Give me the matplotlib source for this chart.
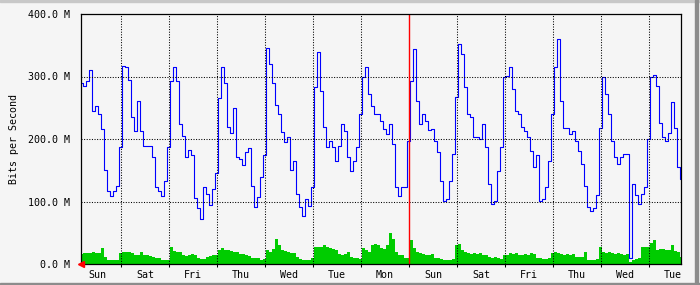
import numpy as np
import matplotlib
matplotlib.use("Agg")
import matplotlib.pyplot as plt
from matplotlib.patches import Rectangle

# MRTG weekly graph: newest sample on the left, one sample every 1.5 h
out_bits = [  # blue line, M bits/s
    290, 285, 293, 310, 245, 253, 240, 216, 150, 117,
    109, 117, 125, 187, 317, 315, 295, 235, 213, 261,
    213, 189, 189, 189, 171, 123, 117, 109, 133, 187,
    293, 315, 293, 224,
    205, 172, 182, 175, 105, 90, 72, 123, 112, 95,
    120, 145, 265, 315, 290, 220, 210, 250, 172, 168,
    158, 180, 185, 125, 92, 107, 140, 175, 345, 320,
    290, 255, 240,
    211, 195, 203, 150, 165, 112, 91, 77, 104, 93,
    123, 283, 340, 277, 219, 187, 197, 187, 165, 189,
    224, 213, 171, 149, 165, 187, 240, 299, 315, 272,
    253, 240, 240, 229,
    216, 208, 224, 192, 123, 109, 123, 123, 197, 293,
    344, 261, 224, 240, 229, 215, 216, 197, 179, 133,
    101, 104, 133, 176, 267, 352, 336, 283, 240, 235,
    203, 203, 200,
    224, 187, 128, 96, 101, 149, 187, 299, 301, 315,
    280, 245, 240, 219, 213, 203, 181, 155, 175, 101,
    104, 123, 165, 240, 315, 360, 261, 218, 218, 208,
    213, 197, 181,
    160, 125, 91, 85, 90, 110, 218, 300, 272, 240,
    197, 171, 160, 171, 176, 176, 10, 128, 110, 96,
    112, 123, 200, 300, 302, 285, 225, 203, 197, 210,
    260, 218, 155, 136,
]
in_bits = [  # green area, M bits/s
    16, 17, 18, 17, 19, 18, 18, 26, 11, 7,
    7, 7, 7, 18, 20, 20, 19, 18, 14, 14,
    19, 15, 15, 13, 11, 9, 9, 7, 6, 7,
    27, 21, 20, 19,
    14, 13, 14, 16, 15, 9, 8, 8, 12, 13,
    14, 15, 23, 25, 23, 22, 21, 20, 19, 16,
    16, 14, 13, 10, 10, 9, 6, 8, 22, 20,
    24, 40, 30,
    22, 21, 19, 18, 17, 12, 8, 6, 6, 7,
    10, 28, 27, 27, 30, 28, 26, 24, 22, 16,
    15, 16, 20, 12, 10, 9, 8, 25, 22, 20,
    30, 32, 31, 25,
    24, 30, 50, 40, 20, 15, 14, 10, 9, 38,
    25, 20, 18, 16, 15, 14, 16, 10, 10, 8,
    7, 6, 6, 8, 30, 32, 22, 20, 18, 16,
    17, 16, 17,
    14, 15, 12, 10, 11, 9, 8, 14, 15, 17,
    16, 18, 15, 14, 16, 15, 17, 16, 10, 9,
    8, 8, 10, 18, 19, 17, 16, 15, 16, 14,
    16, 12, 11,
    11, 20, 7, 6, 6, 8, 28, 20, 18, 19,
    17, 16, 17, 16, 15, 16, 3, 7, 8, 9,
    27, 27, 28, 34, 38, 22, 24, 24, 22, 22,
    30, 21, 20, 11,
]
day_labels = ['Sun', 'Sat', 'Fri', 'Thu', 'Wed', 'Tue', 'Mon',
              'Sun', 'Sat', 'Fri', 'Thu', 'Wed', 'Tue']
y_ticks = [0, 100, 200, 300, 400]

hours_ago = np.arange(len(out_bits)) * 1.5
day_starts = [20 + 24 * k for k in range(12)]
day_mid = [8 + 24 * k for k in range(len(day_labels))]
week_start = day_starts[6]

W, H = 700, 285
bg = '#f5f5f5'
fig = plt.figure(figsize=(W / 100, H / 100), dpi=100, facecolor=bg)
ax = fig.add_axes([81 / W, (H - 264) / H, 600 / W, 250 / H], facecolor=bg)

mono = 'DejaVu Sans Mono'

ax.fill_between(hours_ago, in_bits, step='mid', color='#00cc00', lw=0, zorder=2)
ax.plot(hours_ago, out_bits, drawstyle='steps-mid', color='#0000ff', lw=0.8, zorder=3)

# dotted grid on top of the data
for d in day_starts:
    if d == week_start:
        continue
    ax.axvline(d, color='black', lw=0.75, ls=(0, (1, 1.5)), zorder=4)
for v in y_ticks[1:-1]:
    ax.axhline(v, color='black', lw=0.75, ls=(0, (1, 1.5)), zorder=4)
ax.axvline(week_start, color='#ff0000', lw=1.0, zorder=5)

ax.set_xlim(0, 300)
ax.set_ylim(0, 400)
ax.set_yticks(y_ticks)
ax.set_yticklabels(['%.1f M' % v for v in y_ticks], fontfamily=mono, fontsize=7.2)
ax.tick_params(axis='y', length=0, pad=8)
ax.set_xticks(day_starts, minor=True)
ax.set_xticks(day_mid)
ax.set_xticklabels(day_labels, fontfamily=mono, fontsize=7.2)
ax.tick_params(axis='x', which='major', length=0, pad=4)
ax.tick_params(axis='x', which='minor', length=2.5, width=0.75, color='black')

for s in ax.spines.values():
    s.set_color('black')
    s.set_linewidth(0.9)
    s.set_zorder(6)

# red arrow at origin
ax.plot([0], [0], marker='<', color='#ff0000', markersize=4, clip_on=False, zorder=7)

fig.text(14 / W, 1 - 139 / H, 'Bits per Second', rotation=90, ha='center', va='center',
         fontfamily=mono, fontsize=7.2)

# 3D-ish image border
fig.patches.append(Rectangle((0, 1 - 2 / H), 1, 2 / H, transform=fig.transFigure,
                             color='#c8c8c8', zorder=0))
fig.patches.append(Rectangle((0, 0), 1, 2 / H, transform=fig.transFigure,
                             color='#8c8c8c', zorder=0))
fig.patches.append(Rectangle((1 - 5 / W, 0), 3 / W, 1, transform=fig.transFigure,
                             color='#8c8c8c', zorder=0))

fig.savefig('out.png', dpi=100, facecolor=bg)
